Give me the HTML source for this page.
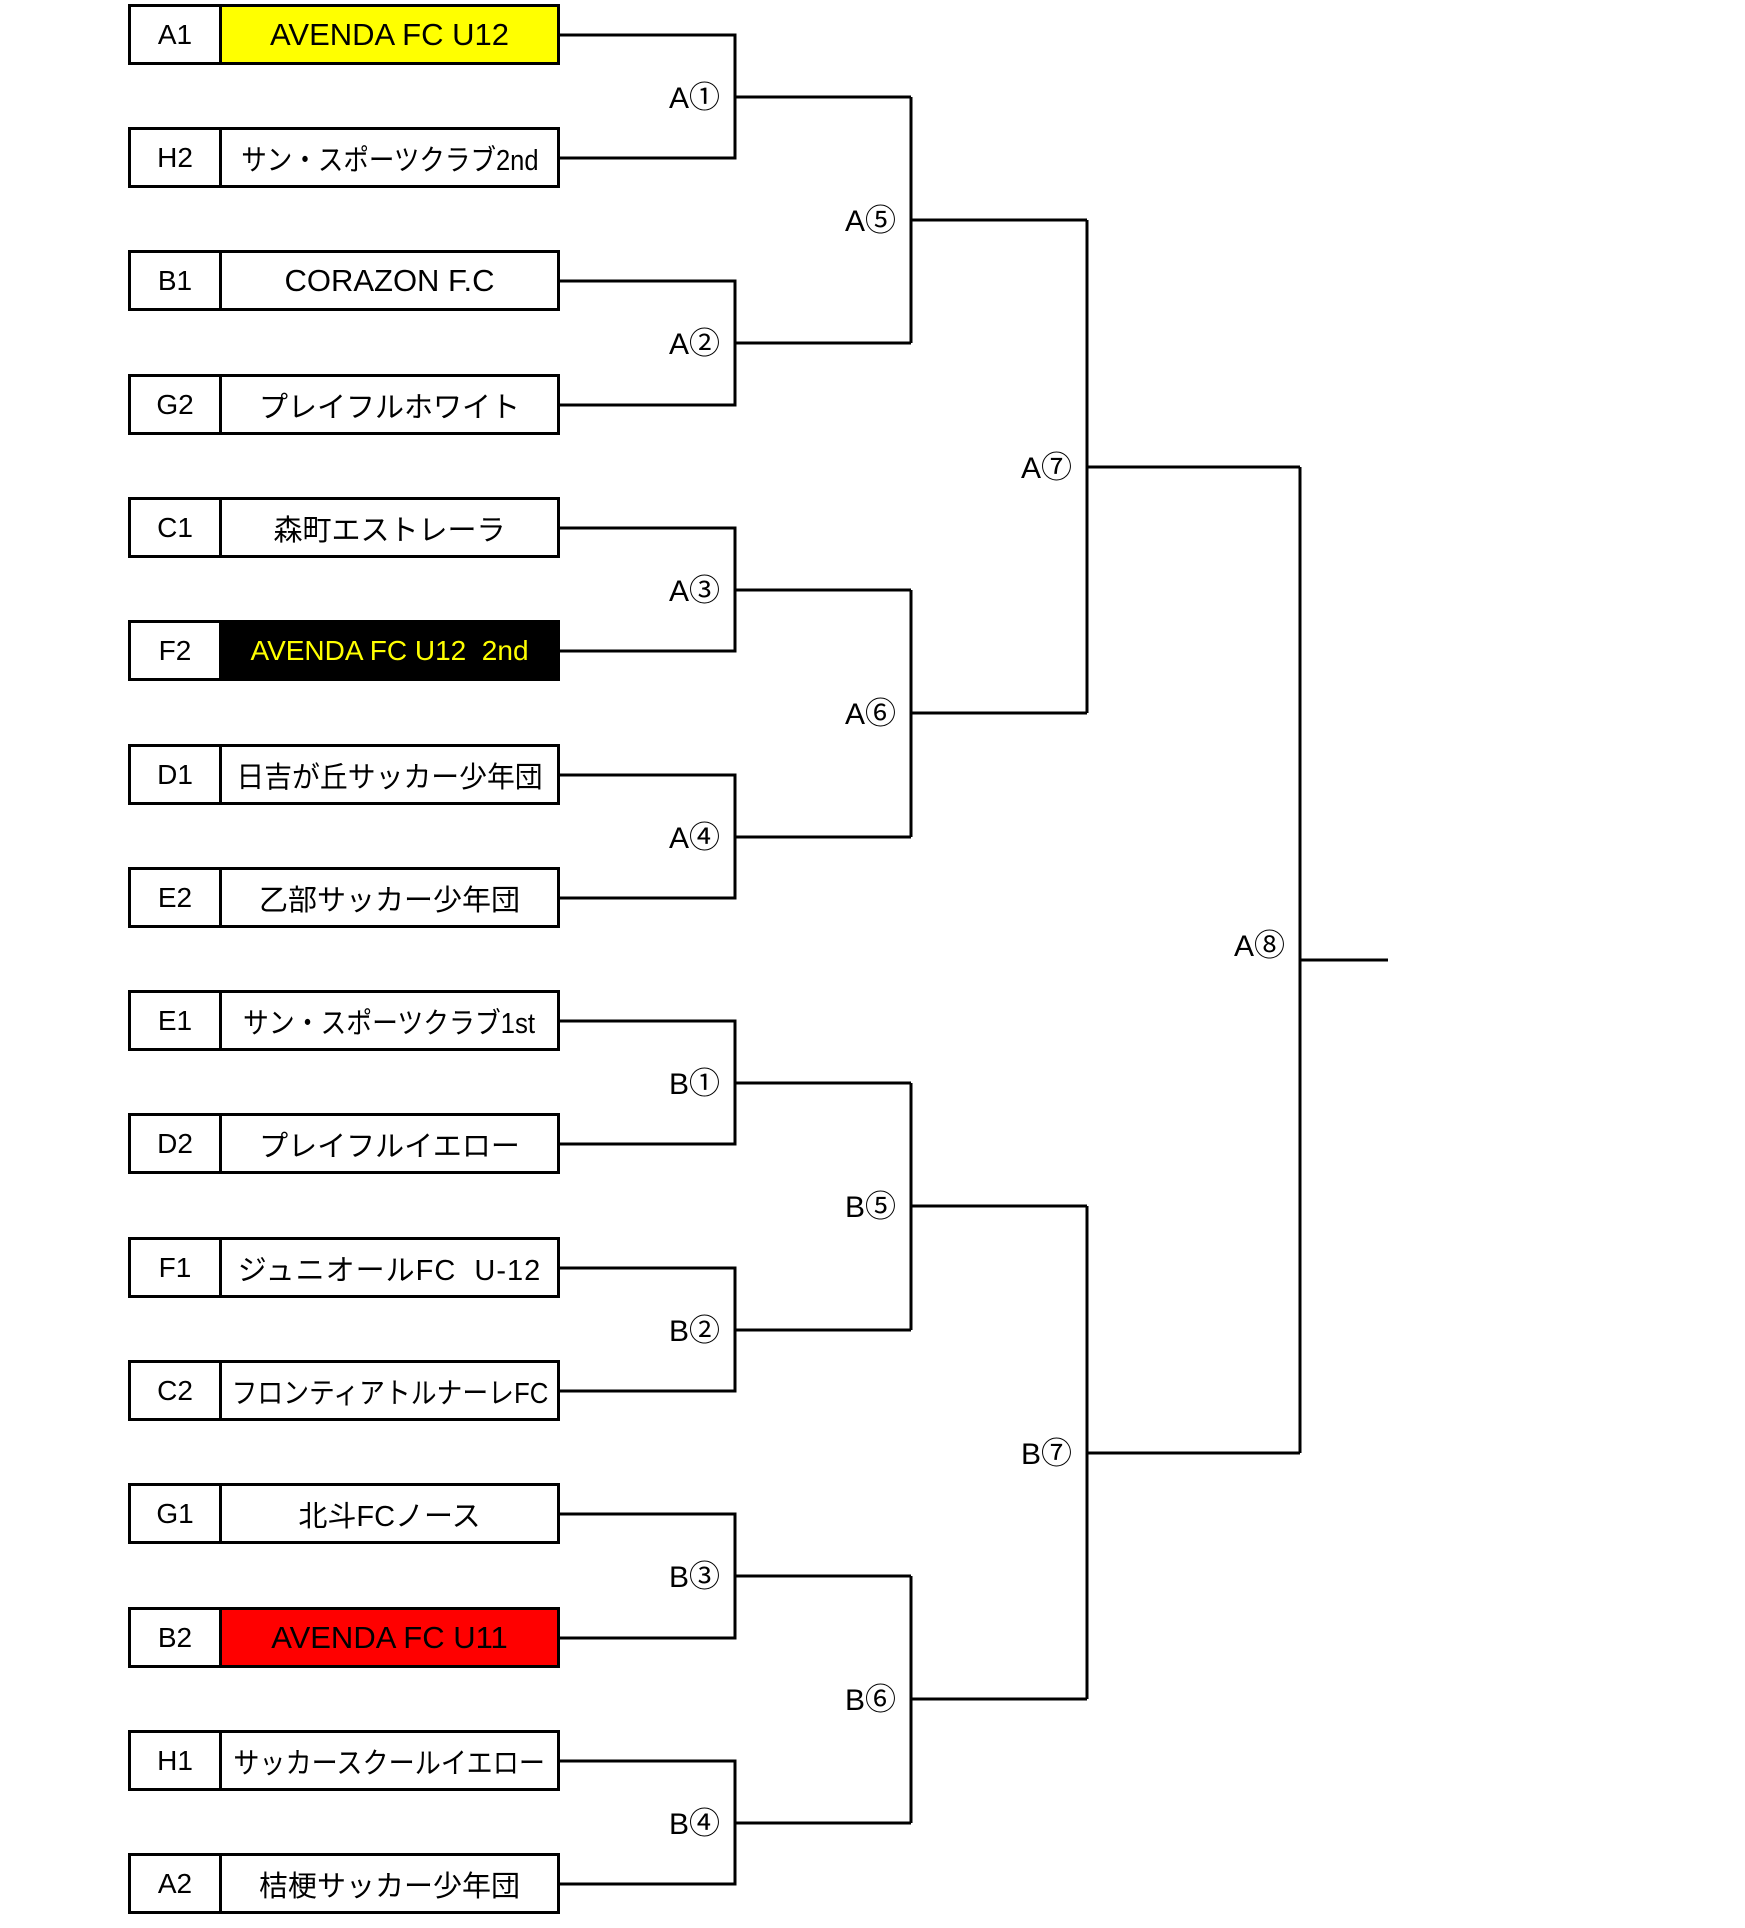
<!DOCTYPE html>
<html><head><meta charset="utf-8"><style>
html,body{margin:0;padding:0;background:#fff;}
body{width:1745px;height:1928px;position:relative;overflow:hidden;font-family:"Liberation Sans","Noto Sans CJK JP",sans-serif;}
.row{position:absolute;left:128px;width:432px;height:61px;box-sizing:border-box;border:3px solid #000;display:flex;}
.seed{width:88px;flex:0 0 88px;border-right:3px solid #000;display:flex;align-items:center;justify-content:center;font-size:28px;}
.name{flex:1 1 auto;min-width:0;display:flex;align-items:center;justify-content:center;font-size:29px;white-space:nowrap;overflow:visible;}
.name span{display:inline-block;transform-origin:center;}
.l{font-size:31px;}
.w{letter-spacing:1px;}
.lab{position:absolute;font-size:30px;text-align:right;width:120px;line-height:36px;}
.lab b{font-weight:normal;font-family:"Noto Sans CJK JP",sans-serif;font-size:31px;}
svg{position:absolute;left:0;top:0;}
</style></head><body>
<svg width="1745" height="1928" fill="none" stroke="#000" stroke-width="3">
<path d="M559,35H735V158H559M735,97H911"/>
<path d="M559,281H735V405H559M735,343H911"/>
<path d="M559,528H735V651H559M735,590H911"/>
<path d="M559,775H735V898H559M735,837H911"/>
<path d="M559,1021H735V1144H559M735,1083H911"/>
<path d="M559,1268H735V1391H559M735,1330H911"/>
<path d="M559,1514H735V1638H559M735,1576H911"/>
<path d="M559,1761H735V1884H559M735,1823H911"/>
<path d="M911,97V343M911,220H1087M911,590V837M911,713H1087M911,1083V1330M911,1206H1087M911,1576V1823M911,1699H1087"/>
<path d="M1087,220V713M1087,467H1300M1087,1206V1699M1087,1453H1300"/>
<path d="M1300,467V1453M1300,960H1388"/>
</svg>
<div class="row" style="top:4px"><div class="seed">A1</div><div class="name l" style="background:#ffff00">AVENDA FC U12</div></div>
<div class="row" style="top:127px"><div class="seed">H2</div><div class="name"><span style="transform:scaleX(0.88)">サン・スポーツクラブ2nd</span></div></div>
<div class="row" style="top:250px"><div class="seed">B1</div><div class="name l">CORAZON F.C</div></div>
<div class="row" style="top:374px"><div class="seed">G2</div><div class="name">プレイフルホワイト</div></div>
<div class="row" style="top:497px"><div class="seed">C1</div><div class="name">森町エストレーラ</div></div>
<div class="row" style="top:620px"><div class="seed">F2</div><div class="name" style="background:#000;color:#ffff00;font-size:28px">AVENDA FC U12&nbsp;&nbsp;2nd</div></div>
<div class="row" style="top:744px"><div class="seed">D1</div><div class="name"><span style="transform:scaleX(0.96)">日吉が丘サッカー少年団</span></div></div>
<div class="row" style="top:867px"><div class="seed">E2</div><div class="name">乙部サッカー少年団</div></div>
<div class="row" style="top:990px"><div class="seed">E1</div><div class="name"><span style="transform:scaleX(0.89)">サン・スポーツクラブ1st</span></div></div>
<div class="row" style="top:1113px"><div class="seed">D2</div><div class="name">プレイフルイエロー</div></div>
<div class="row" style="top:1237px"><div class="seed">F1</div><div class="name w">ジュニオールFC&nbsp;&nbsp;U-12</div></div>
<div class="row" style="top:1360px"><div class="seed">C2</div><div class="name"><span style="transform:scaleX(0.89)">フロンティアトルナーレFC</span></div></div>
<div class="row" style="top:1483px"><div class="seed">G1</div><div class="name">北斗FCノース</div></div>
<div class="row" style="top:1607px"><div class="seed">B2</div><div class="name l" style="background:#ff0000">AVENDA FC U11</div></div>
<div class="row" style="top:1730px"><div class="seed">H1</div><div class="name"><span style="transform:scaleX(0.9)">サッカースクールイエロー</span></div></div>
<div class="row" style="top:1853px"><div class="seed">A2</div><div class="name">桔梗サッカー少年団</div></div>

<div class="lab" style="left:600px;top:77px">A<b>①</b></div>
<div class="lab" style="left:600px;top:323px">A<b>②</b></div>
<div class="lab" style="left:600px;top:570px">A<b>③</b></div>
<div class="lab" style="left:600px;top:817px">A<b>④</b></div>
<div class="lab" style="left:600px;top:1063px">B<b>①</b></div>
<div class="lab" style="left:600px;top:1310px">B<b>②</b></div>
<div class="lab" style="left:600px;top:1556px">B<b>③</b></div>
<div class="lab" style="left:600px;top:1803px">B<b>④</b></div>
<div class="lab" style="left:776px;top:200px">A<b>⑤</b></div>
<div class="lab" style="left:776px;top:693px">A<b>⑥</b></div>
<div class="lab" style="left:776px;top:1186px">B<b>⑤</b></div>
<div class="lab" style="left:776px;top:1679px">B<b>⑥</b></div>
<div class="lab" style="left:952px;top:447px">A<b>⑦</b></div>
<div class="lab" style="left:952px;top:1433px">B<b>⑦</b></div>
<div class="lab" style="left:1165px;top:925px">A<b>⑧</b></div>
</body></html>
